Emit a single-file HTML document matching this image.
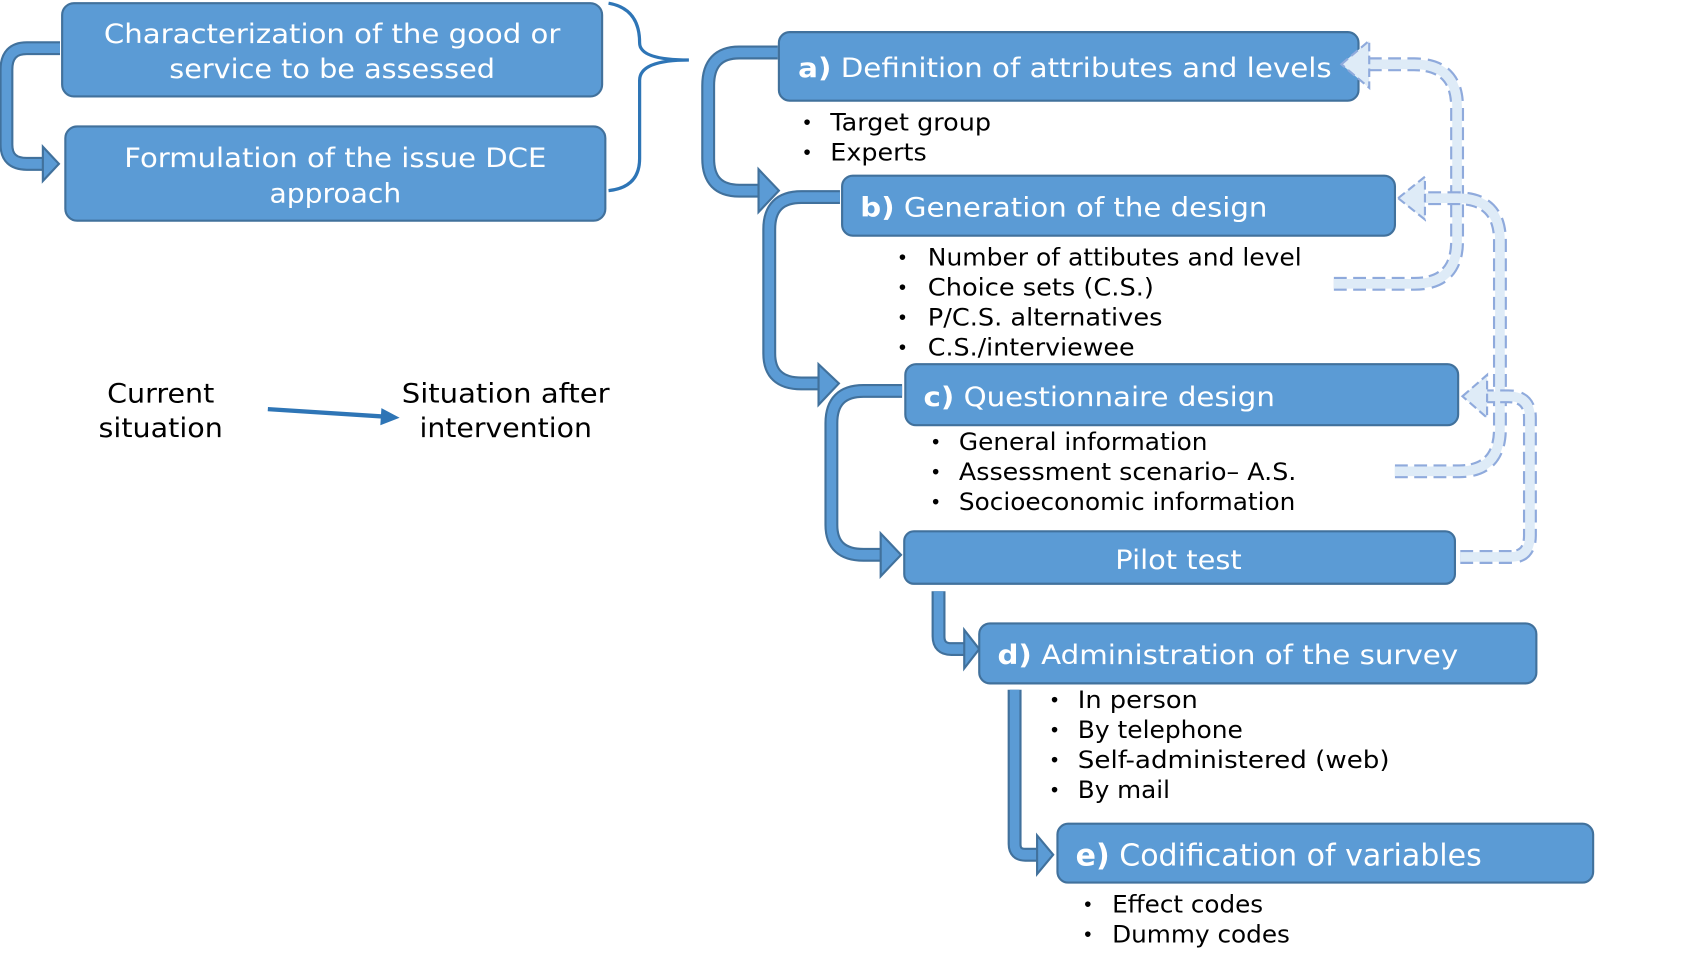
<!DOCTYPE html>
<html><head><meta charset="utf-8"><style>
html,body{margin:0;padding:0;background:#fff;}
svg{display:block;}
text{font-family:"DejaVu Sans","Liberation Sans",sans-serif;}
.w{fill:#fff;font-size:25px;}
.k{fill:#000;font-size:22px;}
.b{fill:#000;font-size:18px;}
.l{fill:#000;font-size:25px;}
.box{fill:#5B9BD5;stroke:#41719C;stroke-width:2;}
.ao{fill:none;stroke:#41719C;stroke-width:13;}
.ai{fill:none;stroke:#5B9BD5;stroke-width:9;}
.ah{fill:#5B9BD5;stroke:#41719C;stroke-width:2;}
.do{fill:none;stroke:#8FAADC;stroke-width:13;stroke-dasharray:12 6;}
.di{fill:none;stroke:#DEEBF7;stroke-width:9;}
.dh{fill:#DEEBF7;stroke:#8FAADC;stroke-width:2;stroke-dasharray:8 4;}
</style></head><body>
<svg width="1681" height="964" viewBox="0 0 1569 900" preserveAspectRatio="none" xmlns="http://www.w3.org/2000/svg">
<!-- solid arrows -->
<path class="ao" d="M56,45 L25,45 Q6,45 6,65 L6,135 Q6,153 25,153 L42,153"/>
<path class="ai" d="M56,45 L25,45 Q6,45 6,65 L6,135 Q6,153 25,153 L44,153"/>
<polygon class="ah" points="55,153 40,137 40,169"/>
<path class="ao" d="M726,49 L690,49 Q661,49 661,80 L661,148 Q661,178 690,178 L712,178"/>
<path class="ai" d="M726,49 L690,49 Q661,49 661,80 L661,148 Q661,178 690,178 L714,178"/>
<polygon class="ah" points="727,178 708,158 708,198"/>
<path class="ao" d="M784,184 L748,184 Q718,184 718,214 L718,330 Q718,358 748,358 L768,358"/>
<path class="ai" d="M784,184 L748,184 Q718,184 718,214 L718,330 Q718,358 748,358 L770,358"/>
<polygon class="ah" points="783,358 764,340 764,378"/>
<path class="ao" d="M842,365 L806,365 Q776,365 776,395 L776,490 Q776,518 806,518 L826,518"/>
<path class="ai" d="M842,365 L806,365 Q776,365 776,395 L776,490 Q776,518 806,518 L828,518"/>
<polygon class="ah" points="841,518 822,498 822,538"/>
<path class="ao" d="M876,552 L876,594 Q876,606 888,606 L902,606"/>
<path class="ai" d="M876,552 L876,594 Q876,606 888,606 L904,606"/>
<polygon class="ah" points="914,606 900,588 900,624"/>
<path class="ao" d="M947,644 L947,788 Q947,798 957,798 L972,798"/>
<path class="ai" d="M947,644 L947,788 Q947,798 957,798 L974,798"/>
<polygon class="ah" points="983,798 968,780 968,816"/>
<!-- brace -->
<path d="M568,3 Q597,8 597,40 Q597,56 643,56 Q597,56 597,75 L597,148 Q597,175 568,178" fill="none" stroke="#2E75B6" stroke-width="3"/>
<!-- boxes -->
<rect class="box" x="58" y="3" width="504" height="87" rx="11"/>
<text class="w" x="310" y="40" text-anchor="middle" textLength="426" lengthAdjust="spacingAndGlyphs">Characterization of the good or</text>
<text class="w" x="310" y="73" text-anchor="middle" textLength="304" lengthAdjust="spacingAndGlyphs">service to be assessed</text>
<rect class="box" x="61" y="118" width="504" height="88" rx="11"/>
<text class="w" x="313" y="156" text-anchor="middle" textLength="394" lengthAdjust="spacingAndGlyphs">Formulation of the issue DCE</text>
<text class="w" x="313" y="189" text-anchor="middle" textLength="123" lengthAdjust="spacingAndGlyphs">approach</text>

<rect class="box" x="727" y="30" width="541" height="64" rx="10"/>
<text class="w" x="745" y="72" textLength="498" lengthAdjust="spacingAndGlyphs"><tspan font-weight="bold">a)</tspan> Definition of attributes and levels</text>
<text class="b" x="748" y="121">•</text><text class="k" x="775" y="122" textLength="150" lengthAdjust="spacingAndGlyphs">Target group</text>
<text class="b" x="748" y="149">•</text><text class="k" x="775" y="150" textLength="90" lengthAdjust="spacingAndGlyphs">Experts</text>

<rect class="box" x="786" y="164" width="516" height="56" rx="10"/>
<text class="w" x="803" y="202" textLength="380" lengthAdjust="spacingAndGlyphs"><tspan font-weight="bold">b)</tspan> Generation of the design</text>
<text class="b" x="837" y="247">•</text><text class="k" x="866" y="248" textLength="349" lengthAdjust="spacingAndGlyphs">Number of attibutes and level</text>
<text class="b" x="837" y="275">•</text><text class="k" x="866" y="276" textLength="211" lengthAdjust="spacingAndGlyphs">Choice sets (C.S.)</text>
<text class="b" x="837" y="303">•</text><text class="k" x="866" y="304" textLength="219" lengthAdjust="spacingAndGlyphs">P/C.S. alternatives</text>
<text class="b" x="837" y="331">•</text><text class="k" x="866" y="332" textLength="193" lengthAdjust="spacingAndGlyphs">C.S./interviewee</text>

<rect class="box" x="845" y="340" width="516" height="57" rx="10"/>
<text class="w" x="862" y="379" textLength="328" lengthAdjust="spacingAndGlyphs"><tspan font-weight="bold">c)</tspan> Questionnaire design</text>
<text class="b" x="868" y="419">•</text><text class="k" x="895" y="420" textLength="232" lengthAdjust="spacingAndGlyphs">General information</text>
<text class="b" x="868" y="447">•</text><text class="k" x="895" y="448" textLength="315" lengthAdjust="spacingAndGlyphs">Assessment scenario– A.S.</text>
<text class="b" x="868" y="475">•</text><text class="k" x="895" y="476" textLength="314" lengthAdjust="spacingAndGlyphs">Socioeconomic information</text>

<rect class="box" x="844" y="496" width="514" height="49" rx="9"/>
<text class="w" x="1100" y="531" text-anchor="middle" textLength="118" lengthAdjust="spacingAndGlyphs">Pilot test</text>

<rect class="box" x="914" y="582" width="520" height="56" rx="10"/>
<text class="w" x="931" y="620" textLength="430" lengthAdjust="spacingAndGlyphs"><tspan font-weight="bold">d)</tspan> Administration of the survey</text>
<text class="b" x="979" y="660">•</text><text class="k" x="1006" y="661" textLength="112" lengthAdjust="spacingAndGlyphs">In person</text>
<text class="b" x="979" y="688">•</text><text class="k" x="1006" y="689" textLength="154" lengthAdjust="spacingAndGlyphs">By telephone</text>
<text class="b" x="979" y="716">•</text><text class="k" x="1006" y="717" textLength="291" lengthAdjust="spacingAndGlyphs">Self-administered  (web)</text>
<text class="b" x="979" y="744">•</text><text class="k" x="1006" y="745" textLength="86" lengthAdjust="spacingAndGlyphs">By mail</text>

<rect class="box" x="987" y="769" width="500" height="55" rx="10"/>
<text class="w" x="1004" y="808" textLength="379" lengthAdjust="spacingAndGlyphs" style="font-size:28px"><tspan font-weight="bold">e)</tspan> Codification of variables</text>
<text class="b" x="1010" y="851">•</text><text class="k" x="1038" y="852" textLength="141" lengthAdjust="spacingAndGlyphs">Effect codes</text>
<text class="b" x="1010" y="879">•</text><text class="k" x="1038" y="880" textLength="166" lengthAdjust="spacingAndGlyphs">Dummy codes</text>

<!-- dashed feedback arrows -->
<g>
<path class="do" d="M1245,265 L1320,265 Q1360,265 1360,225 L1360,100 Q1360,60 1320,60 L1278,60"/>
<path class="di" d="M1245,265 L1320,265 Q1360,265 1360,225 L1360,100 Q1360,60 1320,60 L1276,60"/>
<polygon class="dh" points="1252,60 1278,38 1278,82"/>
<path class="do" d="M1302,440 L1362,440 Q1400,440 1400,400 L1400,225 Q1400,185 1360,185 L1330,185"/>
<path class="di" d="M1302,440 L1362,440 Q1400,440 1400,400 L1400,225 Q1400,185 1360,185 L1328,185"/>
<polygon class="dh" points="1305,185 1330,165 1330,205"/>
<path class="do" d="M1363,520 L1410,520 Q1428,520 1428,500 L1428,390 Q1428,370 1408,370 L1388,370"/>
<path class="di" d="M1363,520 L1410,520 Q1428,520 1428,500 L1428,390 Q1428,370 1408,370 L1386,370"/>
<polygon class="dh" points="1365,370 1388,350 1388,390"/>
</g>

<!-- legend -->
<text class="l" x="150" y="376" text-anchor="middle" textLength="100" lengthAdjust="spacingAndGlyphs">Current</text>
<text class="l" x="150" y="408" text-anchor="middle" textLength="116" lengthAdjust="spacingAndGlyphs">situation</text>
<line x1="250" y1="382" x2="360" y2="389" stroke="#2E75B6" stroke-width="4"/>
<polygon points="373,390 356,381 355,397" fill="#2E75B6"/>
<text class="l" x="472" y="376" text-anchor="middle" textLength="194" lengthAdjust="spacingAndGlyphs">Situation after</text>
<text class="l" x="472" y="408" text-anchor="middle" textLength="161" lengthAdjust="spacingAndGlyphs">intervention</text>
</svg>
</body></html>
